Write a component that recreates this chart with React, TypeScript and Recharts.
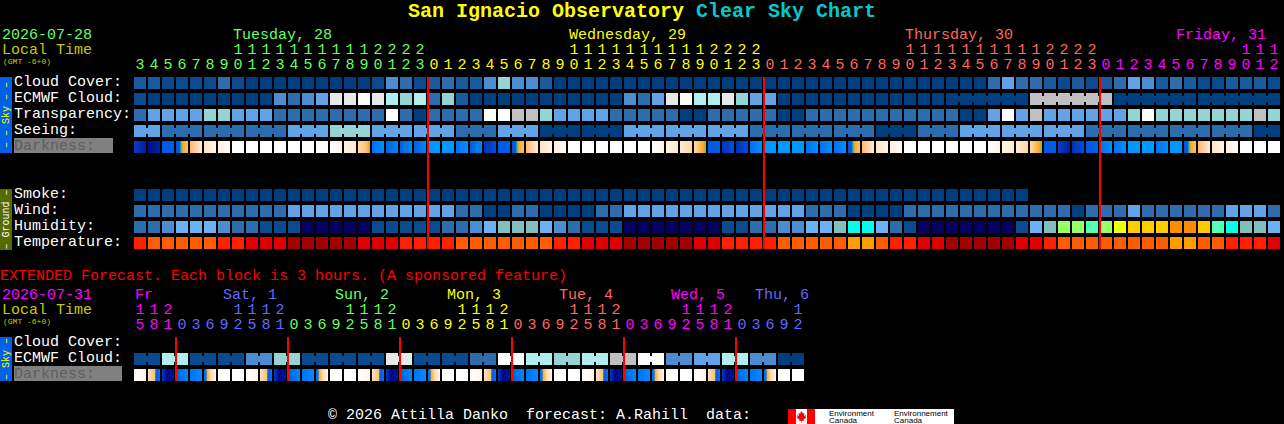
import { ScatterChart, Scatter, XAxis, YAxis, ReferenceLine } from "recharts";

const MONO = "'Liberation Mono', monospace";

// colour levels, index = value stored in the rows below
const SKY_COLORS = ["#003F7F", "#0A4A8E", "#1A5A9E", "#2D6DAE", "#4C8CD0", "#62A2E6", "#94D4D4", "#AEEEEE", "#E8E8E8", "#FFFFFF", "#C0C0C0"];
const HUMIDITY_COLORS = ["#08005E", "#0A4A8E", "#2D6DAE", "#4C8CD0", "#6EB0F6", "#82BEBE", "#00FFE8", "#55FFB0", "#99FF66", "#EEFF11", "#FFCC00", "#FF8C00"];
const TEMP_COLORS = ["#A00000", "#E00000", "#FF2000", "#FF5C00", "#FF9C00"];

const DARK_STOPS: [number, string][][] = [
  [[0, "#ffffff"], [1, "#ffffff"]],
  [[0, "#ffffff"], [1, "#fff4e6"]],
  [[0, "#fff4e6"], [1, "#ffe9cf"]],
  [[0, "#ffe9cf"], [1, "#ffd9a8"]],
  [[0, "#ffdca8"], [0.7, "#ffc070"], [1, "#f09818"]],
  [[0, "#ffdca8"], [0.75, "#ffa726"], [1, "#66bb6a"]],
  [[0, "#0058e0"], [0.3, "#0058e0"], [0.4, "#12b5c4"], [0.55, "#f9a825"], [1, "#ffbe6e"]],
  [[0, "#ffb866"], [1, "#ffeed8"]],
  [[0, "#ffe4c4"], [1, "#fff4e8"]],
  [[0, "#fff0e0"], [1, "#fffcf8"]],
  [[0, "#000a8c"], [1, "#00249e"]],
  [[0, "#0a3cc8"], [1, "#001e96"]],
  [[0, "#0030b8"], [1, "#0050d8"]],
  [[0, "#0058e0"], [1, "#0060e4"]],
  [[0, "#0060e0"], [1, "#0088f0"]],
  [[0, "#0070f0"], [1, "#0090ff"]],
  [[0, "#0098ff"], [1, "#0098ff"]],
  [[0, "#ffe4c0"], [0.55, "#ffc078"], [0.65, "#0060e0"], [1, "#0070f0"]],
  [[0, "#0070f0"], [0.18, "#0070f0"], [0.25, "#ffa726"], [0.6, "#ffe0b8"], [1, "#fff6ea"]],
  [[0, "#0a3cc8"], [0.4, "#000a8c"], [1, "#001090"]],
];

const mainHours = [3,4,5,6,7,8,9,10,11,12,13,14,15,16,17,18,19,20,21,22,23,
  0,1,2,3,4,5,6,7,8,9,10,11,12,13,14,15,16,17,18,19,20,21,22,23,
  0,1,2,3,4,5,6,7,8,9,10,11,12,13,14,15,16,17,18,19,20,21,22,23,
  0,1,2,3,4,5,6,7,8,9,10,11,12];
const mainMidnights = [21, 45, 69];
const extHours = [15,18,21,
  0,3,6,9,12,15,18,21, 0,3,6,9,12,15,18,21, 0,3,6,9,12,15,18,21,
  0,3,6,9,12,15,18,21, 0,3,6,9,12,15,18,21, 0,3,6,9,12];
const extMidnights = [3, 11, 19, 27, 35, 43];

const GREEN = "#66FF66", YELLOW = "#FFFF00", SALMON = "#FF6666", MAGENTA = "#FF00FF", BLUE = "#6666FF";
const mainDayColors = [GREEN, YELLOW, SALMON, MAGENTA];
const extDayColors = [MAGENTA, BLUE, GREEN, YELLOW, SALMON, MAGENTA, BLUE];

const cloudCover = [2,2,1,1,1,1,3,1,0,0,0,0,0,0,0,0,0,1,4,3,1,
  2,3,2,2,4,6,4,4,2,
  0,0,0,0,0,0,0,0,0,0,0,0,0,0,0,0,0,0,0,0,0,0,0,0,0,0,0,0,0,0,0,
  3,5,3,3,2,1,2,1,2,3,5,4,2,3,2,1,1,2,2,2,1];
const ecmwfCloud = [1,0,0,0,0,0,0,0,0,0,4,3,4,5,8,8,9,8,7,6,7,
  3,6,2,0,0,0,0,0,0,0,0,0,0,0,4,3,5,8,9,7,7,8,6,5,5,
  0,0,0,0,0,0,0,0,0,0,0,0,
  0,0,0,0,0,0,10,10,10,10,10,10,0,0,0,0,0,0,0,0,0,0,0,0];
const ecmwfSpans = [1,1,1,1,1,1,1,1,1,1,1,1,1,1,1,1,1,1,1,1,1,1,1,1,1,1,1,1,1,1,
  1,1,1,1,1,1,1,1,1,1,1,1,1,1,1,1,1,1,1,1,1,1,1,1,1,1,1,1,6,6,6,6];
const transparency = [3,5,5,5,5,6,6,5,5,5,3,3,3,3,3,3,3,3,9,3,0,
  3,3,3,3,9,9,10,10,6,5,5,5,5,3,3,3,3,3,0,0,3,3,3,3,3,0,0,3,3,3,3,
  3,3,3,3,3,3,3,0,0,5,9,5,10,5,5,5,5,5,5,6,9,6,6,6,6,6,6,6,10,6];
const seeing = [5,5,3,3,3,3,3,3,3,3,3,5,5,5,6,6,6,5,5,5,5,5,5,3,3,3,5,5,5,0,0,0,0,0,0,
  5,5,5,5,5,5,5,5,5,3,3,3,3,3,3,3,3,3,0,0,0,3,3,3,5,5,5,5,5,5,5,5,5,3,3,3,3,3,3,3,3,3,3,3,3,0,0];
const seeingSpans = [2,3,3,3,3,3,3,3,3,3,3,3,3,3,3,3,3,3,3,3,3,3,3,3,3,3,3,2];
const darkness = [11,10,13,6,7,8,9,0,0,0,0,0,0,0,1,2,4,15,14,14,14,
  16,16,15,14,12,13,6,7,8,9,0,0,0,0,0,0,1,2,3,5,13,12,12,15,16,16,16,15,15,15,6,
  7,8,9,0,0,0,0,0,0,1,2,3,5,13,11,12,13,15,15,16,16,15,16,6,7,8,9,0,0,0];

const smoke = [0,0,0,0,0,0,0,0,0,0,0,0,0,0,0,0,0,0,0,0,0,0,0,0,0,0,0,0,0,0,0,0,
  0,0,0,0,0,0,0,0,0,0,0,0,0,0,0,0,0,0,0,0,0,0,0,0,0,0,0,0,0,0,0,0];
const wind = [3,3,3,3,3,3,3,3,3,3,3,5,5,5,5,5,5,5,5,5,5,5,5,3,3,0,0,3,3,0,0,0,0,3,3,
  5,5,5,5,5,5,5,5,5,5,5,5,5,3,3,3,0,0,0,0,3,3,3,3,3,3,3,3,3,3,3,3,0,3,3,3,5,3,3,3,3,3,3,5,5,5,3];
const humidity = [2,2,3,4,4,4,3,2,2,1,1,1,0,0,0,0,0,1,1,1,1,
  1,2,2,3,4,5,5,5,4,3,2,1,1,1,0,0,0,0,0,0,0,1,1,2,2,3,3,4,4,5,6,
  6,4,2,1,0,0,0,0,0,0,0,1,4,5,8,8,7,8,9,10,10,10,11,11,10,7,6,5,5,4];
const temperature = [2,3,3,3,3,3,2,2,1,1,1,0,0,0,0,0,1,1,1,2,2,
  2,2,3,3,3,3,3,3,3,2,2,1,1,1,0,0,0,0,0,1,1,2,2,2,2,3,3,3,3,3,4,
  4,3,2,2,1,1,0,0,0,0,0,1,1,2,3,3,3,3,3,3,3,3,4,4,3,3,2,2,2,1];

const extEcmwf = [1,1,7,7,1,1,1,1,4,4,6,6,1,1,1,1,1,1,8,8,1,1,1,1,3,3,9,9,7,7,6,6,7,7,10,10,9,9,4,4,5,5,7,7,4,4,0,0];
const extSpans = [2,2,2,2,2,2,2,2,2,2,2,2,2,2,2,2,2,2,2,2,2,2,2,2];
const extDarkness = [1,17,19,14,15,18,0,0, 1,17,19,14,15,18,0,0, 1,17,19,14,15,18,0,0,
  1,17,19,14,15,18,0,0, 1,17,19,14,15,18,0,0, 1,17,19,14,15,18,0,0];

const mainRowLabels = ["Cloud Cover:", "ECMWF Cloud:", "Transparency:", "Seeing:", "Darkness:", "", "", "Smoke:", "Wind:", "Humidity:", "Temperature:"];
const extRowLabels = ["Cloud Cover:", "ECMWF Cloud:", "Darkness:"];

type Pt = { col: number; row: number; fill: string; joined: boolean };

function rowPoints(values: number[], row: number, colors: string[], spans?: number[]): Pt[] {
  const joinedCols = new Set<number>();
  let start = 0;
  (spans || []).forEach(s => {
    for (let c = start; c < start + s - 1; c++) joinedCols.add(c);
    start += s;
  });
  return values.map((v, col) => ({ col, row, fill: colors[v], joined: joinedCols.has(col) }));
}

function darkPoints(values: number[], row: number): Pt[] {
  return values.map((v, col) => ({ col, row, fill: `url(#dark${v})`, joined: false }));
}

const mainRows = [
  rowPoints(cloudCover, 0, SKY_COLORS),
  rowPoints(ecmwfCloud, 1, SKY_COLORS, ecmwfSpans),
  rowPoints(transparency, 2, SKY_COLORS),
  rowPoints(seeing, 3, SKY_COLORS, seeingSpans),
  darkPoints(darkness, 4),
  rowPoints(smoke, 7, SKY_COLORS),
  rowPoints(wind, 8, SKY_COLORS),
  rowPoints(humidity, 9, HUMIDITY_COLORS),
  rowPoints(temperature, 10, TEMP_COLORS),
];
const extRows = [
  rowPoints(extEcmwf, 1, SKY_COLORS, extSpans),
  darkPoints(extDarkness, 2),
];

function CellShape(props: any) {
  const { cx, cy, payload } = props;
  return (
    <g shapeRendering="crispEdges">
      <rect x={cx} y={cy} width={12} height={12} fill={payload.fill} />
      {payload.joined && <rect x={cx + 12} y={cy + 3} width={2} height={6} fill={payload.fill} />}
    </g>
  );
}

function dayColorFor(hours: number[], col: number, colors: string[]) {
  let day = 0;
  for (let i = 1; i <= col; i++) if (hours[i] < hours[i - 1]) day++;
  return colors[day];
}

function hourTick(hours: number[], colors: string[]) {
  return (props: any) => {
    const { x, y, payload } = props;
    const h = hours[payload.value];
    const fill = dayColorFor(hours, payload.value, colors);
    return (
      <g fontFamily={MONO} fontSize={15} fill={fill} textAnchor="middle">
        {h >= 10 && <text x={x + 6} y={y - 23}>{Math.floor(h / 10)}</text>}
        <text x={x + 6} y={y - 8}>{h % 10}</text>
      </g>
    );
  };
}

function rowTick(labels: string[]) {
  return (props: any) => {
    const { y, payload } = props;
    const label = labels[payload.value];
    return (
      <text x={14} y={y + 9} fontFamily={MONO} fontSize={15} fill={label === "Darkness:" ? "#5E5E5E" : "#FFFFFF"}>
        {label}
      </text>
    );
  };
}

const DarkDefs = () => (
  <defs>
    {DARK_STOPS.map((stops, i) => (
      <linearGradient key={i} id={`dark${i}`} x1="0" y1="0" x2="1" y2="0">
        {stops.map(([o, c]) => <stop key={o} offset={o} stopColor={c} />)}
      </linearGradient>
    ))}
  </defs>
);

function Panel({ top, height, marginTop, rows, hours, colors, midnights, labels, yMax, rowTicks }: any) {
  return (
    <div style={{ position: "absolute", left: 0, top }}>
      <ScatterChart width={1284} height={height} margin={{ top: marginTop, right: 2, bottom: height - marginTop - 30 - yMax * 16, left: 0 }}>
        <DarkDefs />
        <XAxis
          type="number" dataKey="col" orientation="top" domain={[0, 82]} height={30}
          ticks={hours.map((_: number, i: number) => i)} interval={0}
          axisLine={false} tickLine={false} tickSize={0} tickMargin={0}
          tick={hourTick(hours, colors)}
        />
        <YAxis
          type="number" dataKey="row" reversed domain={[0, yMax]} width={134} allowDataOverflow
          ticks={rowTicks} interval={0} axisLine={false} tickLine={false}
          tick={rowTick(labels)}
        />
        {rows.map((data: Pt[], i: number) => (
          <Scatter key={i} data={data} shape={CellShape} isAnimationActive={false} />
        ))}
        {midnights.map((c: number) => (
          <ReferenceLine key={c} x={c} stroke="#FF0000" strokeWidth={2} shapeRendering="crispEdges" zIndex={2000} />
        ))}
      </ScatterChart>
    </div>
  );
}

const SideBar = ({ y, h, fill, color, text }: { y: number; h: number; fill: string; color: string; text: string }) => (
  <g>
    <rect x={0} y={y} width={12} height={h} fill={fill} />
    <text x={9} y={y + h / 2} transform={`rotate(-90 9 ${y + h / 2})`} textAnchor="middle" fontSize={10} fill={color} style={{ whiteSpace: "pre" }}>
      {text}
    </text>
  </g>
);

// page furniture: titles, dates, side bars, footer logo
const Frame = () => (
  <svg width={1284} height={424} style={{ position: "absolute", left: 0, top: 0 }} fontFamily={MONO}>
    <text x={408} y={17} fontSize={20} fontWeight="bold" style={{ whiteSpace: "pre" }}>
      <tspan fill="#FFFF00">San Ignacio Observatory </tspan>
      <tspan fill="#00CCCC">Clear Sky Chart</tspan>
    </text>
    <g fontSize={15}>
      <text x={2} y={39} fill={GREEN}>2026-07-28</text>
      <text x={2} y={54} fill="#C8C800">Local Time</text>
      <text x={233} y={39} fill={GREEN}>Tuesday, 28</text>
      <text x={569} y={39} fill={YELLOW}>Wednesday, 29</text>
      <text x={905} y={39} fill={SALMON}>Thursday, 30</text>
      <text x={1176} y={39} fill={MAGENTA}>Friday, 31</text>
      <text x={0} y={280} fill="#FF0000">EXTENDED Forecast. Each block is 3 hours. (A sponsored feature)</text>
      <text x={2} y={299} fill={MAGENTA}>2026-07-31</text>
      <text x={2} y={314} fill="#C8C800">Local Time</text>
      <text x={135} y={299} fill={MAGENTA}>Fr</text>
      <text x={223} y={299} fill={BLUE}>Sat, 1</text>
      <text x={335} y={299} fill={GREEN}>Sun, 2</text>
      <text x={447} y={299} fill={YELLOW}>Mon, 3</text>
      <text x={559} y={299} fill={SALMON}>Tue, 4</text>
      <text x={671} y={299} fill={MAGENTA}>Wed, 5</text>
      <text x={755} y={299} fill={BLUE}>Thu, 6</text>
      <text x={328} y={419} fill="#FFFFFF" style={{ whiteSpace: "pre" }}>© 2026 Attilla Danko  forecast: A.Rahill  data:</text>
    </g>
    <text x={3} y={64} fontSize={8} fill="#C8C800">(GMT -6+0)</text>
    <text x={3} y={324} fontSize={8} fill="#C8C800">(GMT -6+0)</text>
    <SideBar y={77} h={76} fill="#0060E8" color="#FFFF00" text="– – Sky – –" />
    <SideBar y={189} h={61} fill="#556B00" color="#FFFFFF" text="– Ground –" />
    <SideBar y={337} h={44} fill="#0060E8" color="#FFFF00" text="– Sky –" />
    <rect x={14} y={138} width={99} height={15} fill="#808080" />
    <rect x={14} y={366} width={108} height={15} fill="#808080" />
    <rect x={788} y={409} width={166} height={15} fill="#FFFFFF" />
    <rect x={788} y={409} width={8} height={15} fill="#FF0000" />
    <rect x={807} y={409} width={8} height={15} fill="#FF0000" />
    <path d="M801.5 411 l1.5 2.5 1.5-.5 -.5 3 2-1 -.5 2 1 .5 -3 2 .3 1.5 -2-.3 v2 h-.6 v-2 l-2 .3 .3-1.5 -3-2 1-.5 -.5-2 2 1 -.5-3 1.5 .5z" fill="#FF0000" />
    <g fontSize={8} fill="#000000" fontFamily="'Liberation Sans', sans-serif">
      <text x={829} y={416}>Environment</text>
      <text x={829} y={423}>Canada</text>
      <text x={894} y={416}>Environnement</text>
      <text x={894} y={423}>Canada</text>
    </g>
  </svg>
);

export default function App() {
  return (
    <div style={{ position: "fixed", left: 0, top: 0, width: 1284, height: 424, background: "#000", overflow: "hidden" }}>
      <Frame />
      <Panel top={0} height={260} marginTop={47} rows={mainRows} hours={mainHours} colors={mainDayColors}
        midnights={mainMidnights} labels={mainRowLabels} yMax={10.75} rowTicks={[0, 1, 2, 3, 4, 7, 8, 9, 10]} />
      <Panel top={280} height={110} marginTop={27} rows={extRows} hours={extHours} colors={extDayColors}
        midnights={extMidnights} labels={extRowLabels} yMax={2.75} rowTicks={[0, 1, 2]} />
    </div>
  );
}
